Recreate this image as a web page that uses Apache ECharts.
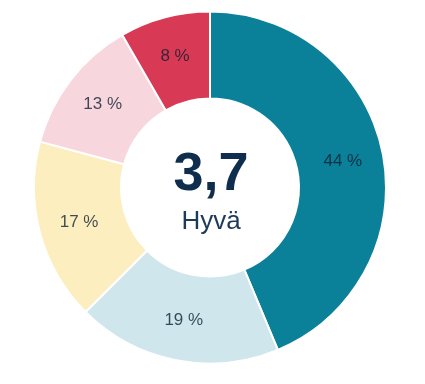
<!DOCTYPE html>
<html>
<head>
<meta charset="utf-8">
<script src="https://cdn.jsdelivr.net/npm/echarts@6/dist/echarts.min.js"></script>
<style>
html,body{margin:0;padding:0;background:#fff;}
#c{width:425px;height:384px;}
</style>
</head>
<body>
<div id="c"></div>
<script>
const categories = ['Erinomainen', 'Hyvä', 'Kohtalainen', 'Välttävä', 'Heikko'];
const values = [43.7, 18.8, 16.7, 12.5, 8.3];
const colors = ['#0b8199', '#d0e6ed', '#fdeebf', '#f7d6dd', '#d83a55'];
const centerValue = '3,7';
const centerLabel = 'Hyvä';

const chart = echarts.init(document.getElementById('c'));
chart.setOption({
  animation: false,
  series: [{
    type: 'pie',
    center: [210, 187.5],
    radius: [89, 176],
    startAngle: 90,
    clockwise: true,
    avoidLabelOverlap: false,
    itemStyle: { borderColor: '#ffffff', borderWidth: 2 },
    label: {
      show: true,
      position: 'inside',
      fontFamily: 'Liberation Sans, Arial, sans-serif',
      fontSize: 17,
      color: 'rgba(12,28,48,0.78)',
      formatter: p => Math.round(p.value) + ' %'
    },
    labelLine: { show: false },
    emphasis: { disabled: true },
    data: categories.map((n, i) => ({ name: n, value: values[i], itemStyle: { color: colors[i] } }))
  }],
  graphic: [
    {
      type: 'text', x: 211, y: 175,
      style: { text: centerValue, align: 'center', verticalAlign: 'middle',
        font: 'bold 54px "Liberation Sans", Arial, sans-serif', fill: '#0f2d4d' }
    },
    {
      type: 'text', x: 211, y: 222,
      style: { text: centerLabel, align: 'center', verticalAlign: 'middle',
        font: '26px "Liberation Sans", Arial, sans-serif', fill: '#1d3a58' }
    }
  ]
});
</script>
</body>
</html>
